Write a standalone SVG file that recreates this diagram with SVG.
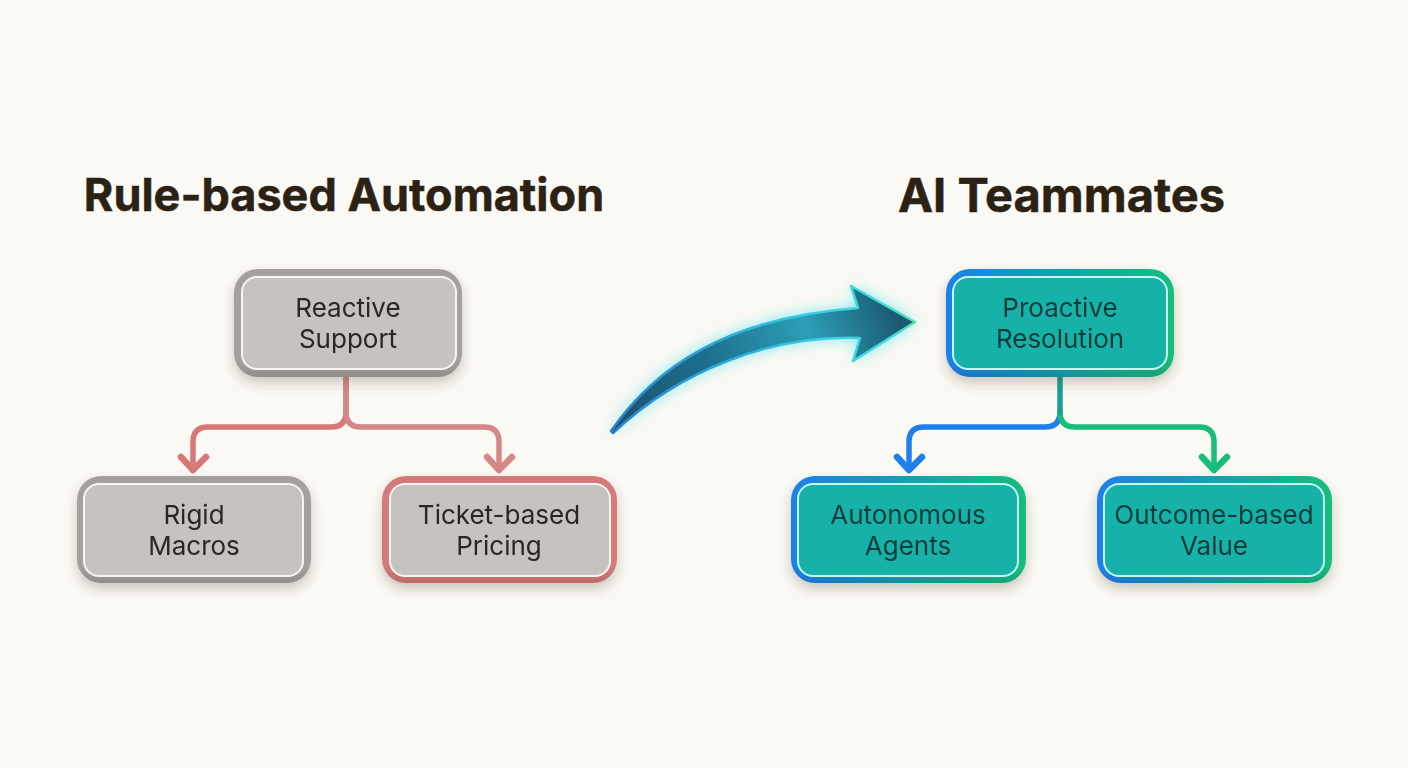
<svg xmlns="http://www.w3.org/2000/svg" width="1408" height="768" viewBox="0 0 1408 768">
<style>
.title{font:700 45px Inter,"Liberation Sans",sans-serif;fill:#2b2214;stroke:#2b2214;stroke-width:.5;text-anchor:middle}
.lab{font:400 26px Inter,"Liberation Sans",sans-serif;fill:#2a2621;text-anchor:middle}
.labt{font:400 26px Inter,"Liberation Sans",sans-serif;fill:#113d3b;text-anchor:middle}
.fg{fill:#c6c2bd;stroke:#f8f5f0;stroke-width:2}
.ft{fill:#17b1a8;stroke:#c5f7ee;stroke-width:2}
.d{fill:url(#dark)}
.c{fill:none;stroke-width:5.5;stroke-linecap:round;stroke-linejoin:round}
.h{fill:none;stroke-width:6.5;stroke-linecap:round;stroke-linejoin:round}
</style>
<defs>
<filter id="sh" x="-15%" y="-15%" width="130%" height="140%"><feDropShadow dx="0" dy="6" stdDeviation="6" flood-color="#3a3020" flood-opacity=".25"/></filter>
<filter id="glow" x="-20%" y="-30%" width="140%" height="160%"><feGaussianBlur stdDeviation="8"/></filter>
<linearGradient id="bg" x1="0" x2="1" y1="0" y2="0"><stop offset="0" stop-color="#1e80ea"/><stop offset=".5" stop-color="#17a1ae"/><stop offset="1" stop-color="#18bd7c"/></linearGradient>
<linearGradient id="dark" x1="0" x2="0" y1="0" y2="1"><stop offset=".85" stop-color="#000" stop-opacity="0"/><stop offset="1" stop-color="#000" stop-opacity=".12"/></linearGradient>
<linearGradient id="arr" gradientUnits="userSpaceOnUse" x1="611" y1="432" x2="915" y2="322"><stop offset="0" stop-color="#1c4f6c"/><stop offset=".35" stop-color="#1d6f8c"/><stop offset=".68" stop-color="#2b9fb6"/><stop offset=".95" stop-color="#1c5a74"/></linearGradient>
<linearGradient id="arre" gradientUnits="userSpaceOnUse" x1="611" y1="432" x2="915" y2="322"><stop offset="0" stop-color="#2a80d0"/><stop offset=".4" stop-color="#2ea8d8"/><stop offset=".7" stop-color="#37cfe6"/><stop offset=".92" stop-color="#3fdcd8"/><stop offset="1" stop-color="#4ee6a6"/></linearGradient>
</defs>
<rect width="1408" height="768" fill="#fbf9f3"/>

<text class="title" x="344" y="210.500">Rule-based Automation</text>
<text class="title" x="1061.500" y="212" style="font-size:47px">AI Teammates</text>

<g id="connectors">
<path class="c" stroke="#d67878" d="M346 377V412Q346 427 331 427H208Q193 427 193 442V469"/>
<path class="c" stroke="#d48888" d="M346 377V412Q346 427 361 427H484Q499 427 499 442V469"/>
<path class="h" stroke="#d67878" d="M181 457L193 470L206 457"/>
<path class="h" stroke="#d48888" d="M487 457L499 470L512 457"/>
<path class="c" stroke="#1e80ea" d="M1060 412Q1060 427 1045 427H924Q909 427 909 442V469"/>
<path class="c" stroke="#18bd7c" d="M1060 412Q1060 427 1075 427H1199Q1214 427 1214 442V469"/>
<path class="c" stroke="#1a9f96" d="M1060 377V412"/>
<path class="h" stroke="#1e80ea" d="M897 457L909 470L922 457"/>
<path class="h" stroke="#18bd7c" d="M1202 457L1214 470L1227 457"/>
</g>

<g id="transition-arrow">
<path d="M611 431C655 368 725 318 858 308L851 286L915 322L853 361L860 338C770 335 680 370 613 433Z" fill="#3fdff0" opacity=".7" filter="url(#glow)"/>
<path d="M611 431C655 368 725 318 858 308L851 286L915 322L853 361L860 338C770 335 680 370 613 433Z" fill="url(#arr)" stroke="url(#arre)" stroke-width="2.500" stroke-linejoin="round"/>
</g>

<g id="node-reactive" filter="url(#sh)">
<rect x="234" y="269" width="228" height="108" rx="24" fill="#a5a09e"/>
<rect class="d" x="234" y="269" width="228" height="108" rx="24"/>
<rect class="fg" x="242" y="277" width="214" height="92" rx="15"/>
<text class="lab" x="348" y="317">Reactive</text><text class="lab" x="348" y="348">Support</text>
</g>
<g id="node-rigid" filter="url(#sh)">
<rect x="77" y="476" width="234" height="107" rx="24" fill="#a5a09e"/>
<rect class="d" x="77" y="476" width="234" height="107" rx="24"/>
<rect class="fg" x="84" y="484" width="219" height="92" rx="15"/>
<text class="lab" x="194" y="524">Rigid</text><text class="lab" x="194" y="555">Macros</text>
</g>
<g id="node-ticket" filter="url(#sh)">
<rect x="382" y="476" width="235" height="107" rx="24" fill="#d47a7a"/>
<rect class="d" x="382" y="476" width="235" height="107" rx="24"/>
<rect class="fg" x="390" y="484" width="220" height="92" rx="15"/>
<text class="lab" x="499" y="524">Ticket-based</text><text class="lab" x="499" y="555">Pricing</text>
</g>
<g id="node-proactive" filter="url(#sh)">
<rect x="946" y="269" width="228" height="108" rx="24" fill="url(#bg)"/>
<rect class="d" x="946" y="269" width="228" height="108" rx="24"/>
<rect class="ft" x="953" y="277" width="214" height="92" rx="15"/>
<text class="labt" x="1060" y="317">Proactive</text><text class="labt" x="1060" y="348">Resolution</text>
</g>
<g id="node-autonomous" filter="url(#sh)">
<rect x="791" y="476" width="235" height="107" rx="24" fill="url(#bg)"/>
<rect class="d" x="791" y="476" width="235" height="107" rx="24"/>
<rect class="ft" x="798" y="484" width="220" height="92" rx="15"/>
<text class="labt" x="908" y="524">Autonomous</text><text class="labt" x="908" y="555">Agents</text>
</g>
<g id="node-outcome" filter="url(#sh)">
<rect x="1097" y="476" width="235" height="107" rx="24" fill="url(#bg)"/>
<rect class="d" x="1097" y="476" width="235" height="107" rx="24"/>
<rect class="ft" x="1104" y="484" width="220" height="92" rx="15"/>
<text class="labt" x="1214" y="524">Outcome-based</text><text class="labt" x="1214" y="555">Value</text>
</g>
</svg>
